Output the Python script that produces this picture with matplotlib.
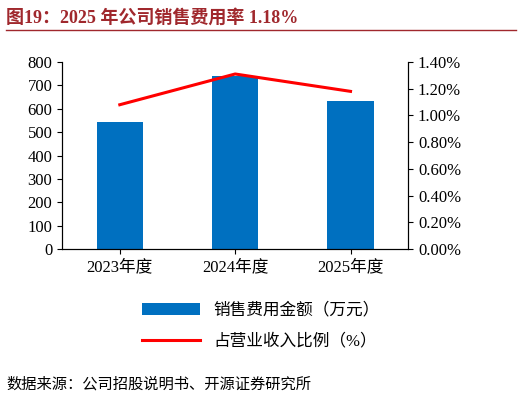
import matplotlib.pyplot as plt
from matplotlib.ticker import FuncFormatter

plt.rcParams['font.family'] = ['Liberation Serif', 'Noto Sans CJK SC']

years = ['2023年度', '2024年度', '2025年度']
expense = [545, 740, 635]          # 销售费用金额（万元）
ratio = [1.08, 1.31, 1.18]         # 占营业收入比例（%）

fig = plt.figure(figsize=(5.22, 4.05), dpi=100)
ax = fig.add_axes([0.119, 0.385, 0.663, 0.462])
ax.bar(years, expense, width=0.4, color='#0070C0', label='销售费用金额（万元）')
ax.set_ylim(0, 800)
ax.set_yticks(range(0, 801, 100))
ax.spines['top'].set_visible(False)
ax.tick_params(labelsize=12, direction='out')
ax.set_xlim(-0.5, 2.5)

ax2 = ax.twinx()
ax2.plot(years, ratio, color='#FF0000', lw=2.2, label='占营业收入比例（%）')
ax2.set_ylim(0, 1.4)
ax2.set_yticks([i * 0.2 for i in range(8)])
ax2.yaxis.set_major_formatter(FuncFormatter(lambda v, p: f'{v:.2f}%'))
ax2.spines['top'].set_visible(False)
ax2.tick_params(labelsize=12)

h1, l1 = ax.get_legend_handles_labels()
h2, l2 = ax2.get_legend_handles_labels()
fig.legend(h1 + h2, l1 + l2, loc='center', bbox_to_anchor=(0.5, 0.195),
           frameon=False, fontsize=12, labelspacing=0.9, handlelength=3.5)

fig.text(0.012, 0.955, '图19：2025 年公司销售费用率 1.18%', fontsize=13,
         fontweight='bold', color='#A0282D', va='center')
fig.add_artist(plt.Line2D([0.012, 0.988], [0.925, 0.925], color='#A0282D', lw=1))
fig.text(0.012, 0.05, '数据来源：公司招股说明书、开源证券研究所', fontsize=11, va='center')

fig.savefig('out.png', dpi=100)
